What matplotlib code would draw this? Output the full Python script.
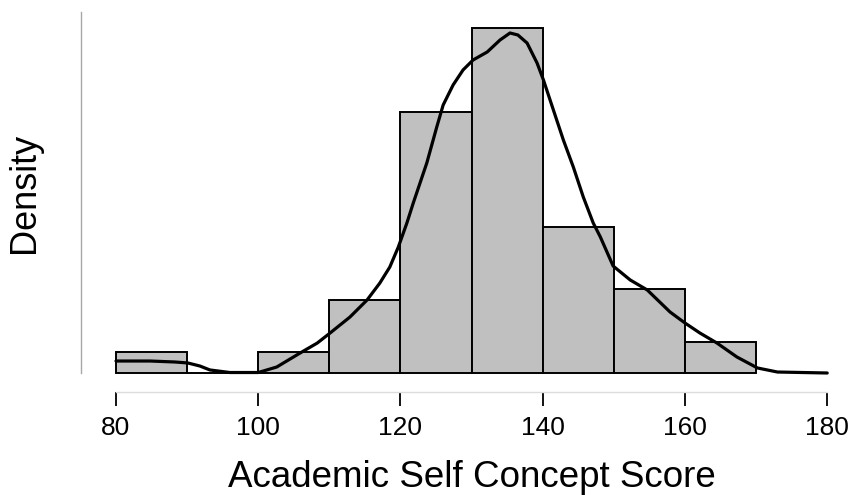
import matplotlib
matplotlib.use("Agg")
import matplotlib.pyplot as plt
import matplotlib.transforms as mtransforms

plt.rcParams['font.family'] = ['Liberation Sans', 'DejaVu Sans']

# histogram: bin edges and counts per bin
bin_edges = [80, 90, 100, 110, 120, 130, 140, 150, 160, 170]
bin_counts = [2, 0, 2, 7, 25, 33, 14, 8, 3]

# density curve
kde_x = [80.0, 84.8, 88.3, 90.1, 91.8, 93.2, 96.0, 100.0, 102.6, 105.9,
         108.3, 110.1, 112.9, 115.3, 117.1, 118.5, 119.7, 120.9, 121.8, 123.7,
         125.1, 126.0, 127.4, 128.8, 130.2, 132.2, 134.0, 135.4, 136.5, 137.8,
         139.2, 140.1, 141.5, 142.9, 144.3, 145.7, 147.1, 148.1, 149.9, 152.3,
         154.7, 157.9, 160.0, 162.1, 164.5, 167.3, 170.2, 173.0, 180.0]
kde_y = [0.00122, 0.00122, 0.00112, 0.00102, 0.00071, 0.00031, 0.00005, 0.00005,
         0.00061, 0.00204, 0.00305, 0.00407, 0.0057, 0.00743, 0.00916, 0.01079,
         0.01283, 0.01527, 0.01731, 0.02138, 0.02504, 0.02728, 0.02932, 0.03085,
         0.03186, 0.03268, 0.0339, 0.03461, 0.03441, 0.03359, 0.03156, 0.02983,
         0.02677, 0.02372, 0.02097, 0.01792, 0.01527, 0.01385, 0.01089, 0.00947,
         0.00845, 0.00621, 0.00509, 0.00407, 0.00305, 0.00163, 0.00051, 0.0001,
         0.0]

xticks = [80, 100, 120, 140, 160, 180]

fig = plt.figure(figsize=(8.55, 4.95), dpi=100)
W, H = 855, 495
ax = fig.add_axes([81 / W, 1 - 392 / H, (845 - 81) / W, (392 - 5) / H])

ax.hist(bin_edges[:-1], bins=bin_edges, weights=bin_counts, density=True,
        color='#c0c0c0', edgecolor='black', linewidth=1.4)
ax.plot(kde_x, kde_y, color='black', linewidth=2.3,
        solid_joinstyle='round', solid_capstyle='round')

ax.set_xlim(75.08, 182.5)
ax.set_ylim(-0.001934, 0.03746)

for s in ['top', 'right']:
    ax.spines[s].set_visible(False)
ax.spines['left'].set_bounds(0, 0.03675)
ax.spines['left'].set_color('#a8a8a8')
ax.spines['left'].set_linewidth(1.0)
ax.spines['bottom'].set_bounds(80, 180)
ax.spines['bottom'].set_color('#dcdcdc')
ax.spines['bottom'].set_linewidth(1.0)

ax.set_yticks([])
ax.set_xticks(xticks)
ax.tick_params(axis='x', length=10, width=1.3, color='black', pad=7, labelsize=19)

trans = mtransforms.blended_transform_factory(ax.transData, fig.transFigure)
fig.text(130, 1 - 487 / H, 'Academic Self Concept Score', transform=trans,
         ha='center', va='baseline', fontsize=26.5)
trans_y = mtransforms.blended_transform_factory(fig.transFigure, ax.transData)
fig.text(42 / W, 0.03675 / 2, 'Density', transform=trans_y, rotation=90,
         ha='right', va='center', fontsize=26)

fig.savefig('out.png', dpi=100)
